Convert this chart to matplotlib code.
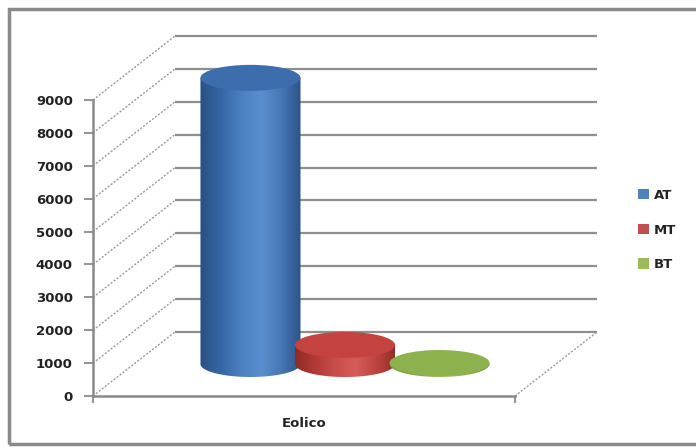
import numpy as np
import matplotlib
matplotlib.use('Agg')
import matplotlib.pyplot as plt
from matplotlib.patches import Ellipse, Polygon, Rectangle, Patch
from matplotlib.colors import LinearSegmentedColormap

# ---------------- data ----------------
categories = ['Eolico']
series = ['AT', 'MT', 'BT']
values = [8700, 580, 30]
yticks = [0, 1000, 2000, 3000, 4000, 5000, 6000, 7000, 8000, 9000]

# ---------------- styles ----------------
base_colors = ['#4F81BD', '#C0504D', '#9BBB59']
body_stops = [
    ['#2a5083', '#3566a4', '#4a7fc0', '#5a8fcf', '#4878b6', '#2b5389'],
    ['#8f2a27', '#b13a36', '#c84d49', '#d65d59', '#bf4541', '#922c29'],
    ['#6f8f35', '#80a243', '#92b652', '#9cc05a', '#88ab48', '#718f37'],
]
top_colors = ['#3d6dac', '#c4433f', '#8db14c']
grid_col = '#8e8e8e'
fs = 9.5

W, H = 696, 447
fig = plt.figure(figsize=(W / 100, H / 100), dpi=100)
ax = fig.add_axes([0, 0, 1, 1])

# pixel geometry of the front plane
x0px, x1px = 93, 515
y0px, ytop_px = 396, 100
sy = (y0px - ytop_px) / yticks[-1]      # px per value unit
sx = x1px - x0px                        # px per category unit
ax.set_xlim(-x0px / sx, (W - x0px) / sx)
ax.set_ylim(-(H - y0px) / sy, y0px / sy)
ax.set_facecolor('none')

# depth vector
du = 82 / sx
dv = 64 / sy

# back wall gridlines and left wall diagonals
for v in yticks:
    ax.plot([du, 1 + du], [v + dv, v + dv], color=grid_col, lw=1.6, zorder=1,
            solid_capstyle='butt')
    ax.plot([0, du], [v, v + dv], color='#9a9a9a', lw=1.0, ls=(0, (1.5, 1.2)), zorder=1)
# floor right diagonal
ax.plot([1, 1 + du], [0, dv], color='#9a9a9a', lw=1.0, ls=(0, (1.5, 1.2)), zorder=1)

# axes spines
for s in ['top', 'right']:
    ax.spines[s].set_visible(False)
ax.spines['left'].set_position(('data', 0))
ax.spines['left'].set_bounds(0, yticks[-1])
ax.spines['bottom'].set_position(('data', 0))
ax.spines['bottom'].set_bounds(0, 1)
for s in ['left', 'bottom']:
    ax.spines[s].set_color('#8a8a8a')
    ax.spines[s].set_linewidth(1.8)
    ax.spines[s].set_zorder(2)

ax.set_yticks(yticks)
ax.set_yticklabels([str(t) for t in yticks], fontsize=fs, fontweight='bold', color='#222222')
ax.tick_params(axis='y', direction='out', length=6.5, width=1.3, color='#8a8a8a', pad=8)
ax.set_xticks([0, 1])
ax.set_xticklabels(['', ''])
ax.tick_params(axis='x', which='major', direction='out', length=5, width=1.3, color='#8a8a8a')
ax.set_xticks([0.5], minor=True)
ax.set_xticklabels(categories, minor=True, fontsize=fs, fontweight='bold', color='#222222')
ax.tick_params(axis='x', which='minor', length=0, pad=15)

# cylinders
n = len(series)
spacing = 0.224
width = 0.237
eh = 26 / sy
grad = np.linspace(0, 1, 256).reshape(1, -1)
handles = []
for i, (name, val) in enumerate(zip(series, values)):
    cmap = LinearSegmentedColormap.from_list('c%d' % i, body_stops[i])
    cu = 0.5 + (i - (n - 1) / 2) * spacing + du / 2
    base = dv / 2
    top = base + val
    left, right = cu - width / 2, cu + width / 2
    t = np.linspace(np.pi, 2 * np.pi, 80)
    bx = cu + width / 2 * np.cos(t)
    by = base + eh / 2 * np.sin(t)
    verts = list(zip(bx, by)) + [(right, top), (left, top)]
    body = Polygon(verts, closed=True, facecolor='none', edgecolor='none', zorder=3 + 2 * i)
    ax.add_patch(body)
    im = ax.imshow(grad, cmap=cmap, extent=[left, right, base - eh / 2, top],
                   aspect='auto', origin='lower', zorder=3 + 2 * i, interpolation='bilinear')
    im.set_clip_path(body)
    ax.add_patch(Ellipse((cu, top), width, eh, facecolor=top_colors[i],
                         edgecolor='none', zorder=4 + 2 * i))
    handles.append(Patch(facecolor=base_colors[i], edgecolor='none', label=name))

ax.set_xlim(-x0px / sx, (W - x0px) / sx)
ax.set_ylim(-(H - y0px) / sy, y0px / sy)
ax.set_aspect('auto')

leg = ax.legend(handles=handles, loc='center left',
                bbox_to_anchor=(638 / W, 1 - 230 / H), frameon=False,
                handlelength=0.85, handleheight=0.85, handletextpad=0.35,
                labelspacing=1.65, borderpad=0, borderaxespad=0,
                prop={'size': fs, 'weight': 'bold'})
for txt in leg.get_texts():
    txt.set_color('#222222')

# outer chart border
fig.patches.append(Rectangle((9 / W, 3 / H), 700 / W, (H - 12) / H, transform=fig.transFigure,
                             fill=False, edgecolor='#8a8a8a', lw=2.5, zorder=0))

fig.savefig('out.png', dpi=100)
